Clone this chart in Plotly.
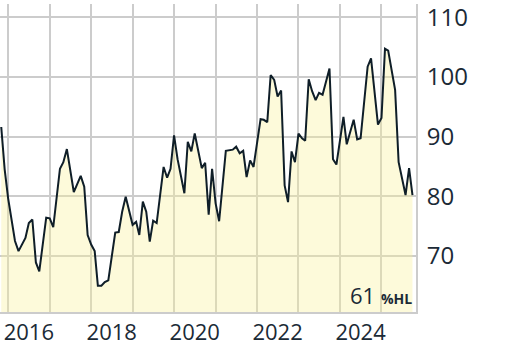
import plotly.graph_objects as go

dates = [
    "2015-11-01", "2015-12-01", "2016-01-01", "2016-03-01", "2016-04-01", "2016-06-01",
    "2016-07-01", "2016-08-01", "2016-09-01", "2016-10-01", "2016-12-01", "2017-01-01",
    "2017-02-01", "2017-03-01", "2017-04-01", "2017-05-01", "2017-06-01", "2017-08-01",
    "2017-10-01", "2017-11-01", "2017-12-01", "2018-01-01", "2018-02-01", "2018-03-01",
    "2018-04-01", "2018-05-01", "2018-06-01", "2018-08-01", "2018-09-01", "2018-10-01",
    "2018-11-01", "2019-01-01", "2019-02-01", "2019-03-01", "2019-04-01", "2019-05-01",
    "2019-06-01", "2019-07-01", "2019-08-01", "2019-10-01", "2019-11-01", "2019-12-01",
    "2020-01-01", "2020-02-01", "2020-04-01", "2020-05-01", "2020-06-01", "2020-07-01",
    "2020-09-01", "2020-10-01", "2020-11-01", "2020-12-01", "2021-01-01", "2021-02-01",
    "2021-04-01", "2021-06-01", "2021-07-01", "2021-08-01", "2021-09-01", "2021-10-01",
    "2021-11-01", "2021-12-01", "2022-01-01", "2022-02-01", "2022-03-01", "2022-04-01",
    "2022-05-01", "2022-06-01", "2022-07-01", "2022-08-01", "2022-09-01", "2022-10-01",
    "2022-11-01", "2022-12-01", "2023-01-01", "2023-02-01", "2023-03-01", "2023-04-01",
    "2023-05-01", "2023-06-01", "2023-07-01", "2023-08-01", "2023-10-01", "2023-11-01",
    "2023-12-01", "2024-02-01", "2024-03-01", "2024-05-01", "2024-06-01", "2024-07-01",
    "2024-09-01", "2024-10-01", "2024-12-01", "2025-01-01", "2025-02-01", "2025-03-01",
    "2025-05-01", "2025-06-01", "2025-08-01", "2025-09-01", "2025-10-01",
]
values = [
    91.6, 84.5, 79.6, 72.5, 70.8, 73.0,
    75.5, 76.1, 68.9, 67.4, 76.4, 76.3,
    74.8, 79.1, 84.6, 85.7, 87.9, 80.7,
    83.4, 81.6, 73.5, 71.9, 70.8, 65.0,
    65.0, 65.6, 65.9, 73.9, 74.0, 77.4,
    79.9, 75.2, 75.7, 73.5, 79.1, 77.4,
    72.4, 75.9, 75.5, 84.9, 83.1, 84.6,
    90.2, 86.2, 80.5, 89.1, 87.5, 90.5,
    84.7, 85.6, 76.9, 84.6, 78.8, 75.8,
    87.6, 87.8, 88.3, 87.2, 87.6, 83.2,
    86.0, 84.9, 89.0, 92.9, 92.8, 92.4,
    100.3, 99.5, 96.7, 97.7, 81.8, 79.0,
    87.5, 85.7, 90.5, 89.7, 89.3, 99.6,
    97.6, 96.1, 97.3, 97.0, 101.4, 86.2,
    85.3, 93.3, 88.7, 92.8, 89.5, 89.7,
    101.7, 103.1, 92.0, 93.1, 104.7, 104.4,
    97.8, 85.7, 80.2, 84.7, 80.2,
]

year_label_pos = ["2016-07-01", "2018-07-01", "2020-07-01", "2022-07-01", "2024-07-01"]
year_labels = ["2016", "2018", "2020", "2022", "2024"]
y_ticks = [70, 80, 90, 100, 110]
y_tick_text = ["70", "80", "90", "100", "110"]
range_label = "61"
range_unit = "%HL"

fig = go.Figure()
fig.add_trace(go.Scatter(
    x=dates, y=values, mode="lines",
    line=dict(color="#0f1e28", width=2),
    fill="tozeroy", fillcolor="rgba(250,240,150,0.35)",
    hoverinfo="skip",
))

fig.update_layout(
    width=512, height=346,
    margin=dict(l=0, r=96, t=0, b=33),
    paper_bgcolor="white", plot_bgcolor="white",
    showlegend=False,
    font=dict(family="Open Sans", color="#1b2a36"),
    xaxis=dict(
        type="date",
        range=["2015-10-21", "2025-11-01"],
        tickvals=year_label_pos, ticktext=year_labels,
        showgrid=False, ticks="",
        tickfont=dict(size=22),
        ticklabeloverflow="allow",
        minor=dict(dtick="M12", tick0="2016-01-01", showgrid=True,
                   gridcolor="#cccccc", gridwidth=2, ticks=""),
        showline=True, linecolor="#cccccc", linewidth=2,
        zeroline=False,
    ),
    yaxis=dict(
        side="right",
        range=[60.6, 112.2],
        tickmode="array",
        tickvals=y_ticks, ticktext=y_tick_text,
        showgrid=True, gridcolor="#cccccc", gridwidth=2,
        ticks="outside", ticklen=4, tickcolor="rgba(0,0,0,0)",
        tickfont=dict(size=24),
        ticklabeloverflow="allow",
        showline=True, linecolor="#cccccc", linewidth=2,
        zeroline=False,
    ),
    annotations=[dict(
        xref="paper", yref="paper", x=414/416, y=0.0,
        xanchor="right", yanchor="bottom", showarrow=False,
        text=range_label + " <b><span style='font-size:14px'>" + range_unit + "</span></b>",
        font=dict(size=22, color="#1b2a36"),
    )],
)

fig.write_html("out.html")
